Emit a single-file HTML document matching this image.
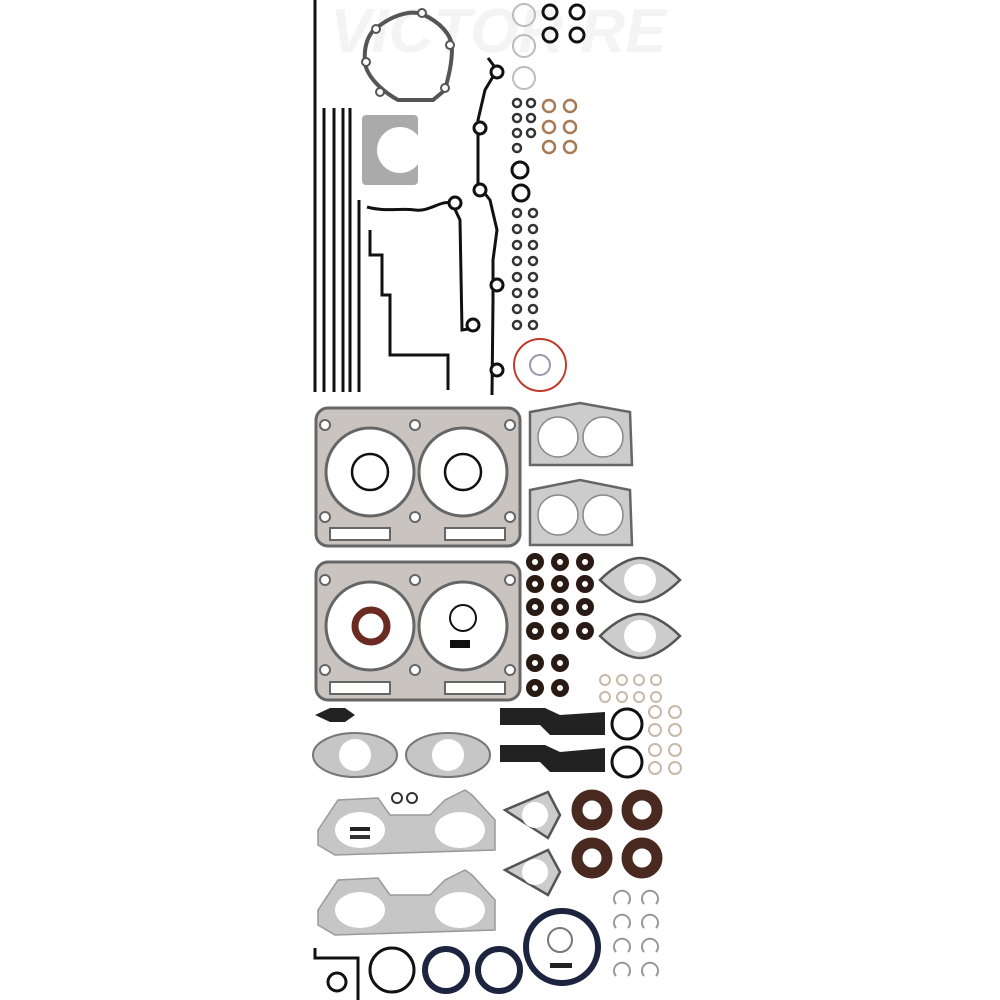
<!DOCTYPE html>
<html><head><meta charset="utf-8"><style>html,body{margin:0;padding:0;background:#fff}svg{display:block}</style></head>
<body>
<svg width="1000" height="1000" viewBox="0 0 1000 1000" xmlns="http://www.w3.org/2000/svg">
<rect width="1000" height="1000" fill="#fff"/>
<text x="330" y="52" font-family="Liberation Sans, sans-serif" font-size="62" font-style="italic" font-weight="bold" fill="#f4f4f4">VICTOR RE</text>
<g stroke="#111" stroke-width="3" fill="none">
<line x1="315" y1="0" x2="315" y2="392"/>
<line x1="324" y1="108" x2="324" y2="392"/>
<line x1="334" y1="108" x2="334" y2="392"/>
<line x1="343" y1="108" x2="343" y2="392"/>
<line x1="350" y1="108" x2="350" y2="392"/>
<line x1="359" y1="200" x2="359" y2="392"/>
<path d="M488 58 L497 70 L485 90 L478 120 L478 185 L490 200 L497 230 L493 260 L493 300 L492 395"/>
<path d="M367 207 C385 212 400 208 415 210 C430 212 440 200 452 203 L460 220 L462 330 L475 328"/>
<path d="M370 230 L370 255 L382 255 L382 295 L390 295 L390 355 L448 355 L448 390"/>
</g>
<g fill="#fff" stroke="#111" stroke-width="3">
<circle cx="497" cy="72" r="6"/><circle cx="480" cy="128" r="6"/><circle cx="480" cy="190" r="6"/><circle cx="497" cy="285" r="6"/><circle cx="473" cy="325" r="6"/><circle cx="497" cy="370" r="6"/><circle cx="455" cy="203" r="6"/>
</g>
<path d="M372 32 C390 15 410 10 422 14 C440 22 452 35 452 48 C452 65 448 78 445 90 L433 100 L398 100 C380 90 366 75 365 62 C364 50 366 40 372 32 Z" fill="none" stroke="#555" stroke-width="4"/>
<g fill="#fff" stroke="#555" stroke-width="2"><circle cx="376" cy="29" r="4"/><circle cx="422" cy="13" r="4"/><circle cx="450" cy="45" r="4"/><circle cx="366" cy="62" r="4"/><circle cx="445" cy="88" r="4"/><circle cx="380" cy="92" r="4"/></g>
<rect x="362" y="115" width="56" height="70" rx="4" fill="#aaa"/>
<circle cx="400" cy="150" r="23" fill="#fff"/>
<g fill="none" stroke="#bbb" stroke-width="2"><circle cx="524" cy="15" r="11"/><circle cx="524" cy="46" r="11"/><circle cx="524" cy="78" r="11"/></g>
<g fill="none" stroke="#111" stroke-width="3"><circle cx="550" cy="12" r="7"/><circle cx="577" cy="12" r="7"/><circle cx="550" cy="35" r="7"/><circle cx="577" cy="35" r="7"/><circle cx="520" cy="170" r="8"/><circle cx="521" cy="193" r="8"/></g>
<g fill="none" stroke="#333" stroke-width="2.5">
<circle cx="517" cy="103" r="4"/><circle cx="531" cy="103" r="4"/><circle cx="517" cy="118" r="4"/><circle cx="531" cy="118" r="4"/><circle cx="517" cy="133" r="4"/><circle cx="531" cy="133" r="4"/><circle cx="517" cy="148" r="4"/>
<circle cx="517" cy="213" r="4"/><circle cx="533" cy="213" r="4"/><circle cx="517" cy="229" r="4"/><circle cx="533" cy="229" r="4"/><circle cx="517" cy="245" r="4"/><circle cx="533" cy="245" r="4"/><circle cx="517" cy="261" r="4"/><circle cx="533" cy="261" r="4"/><circle cx="517" cy="277" r="4"/><circle cx="533" cy="277" r="4"/><circle cx="517" cy="293" r="4"/><circle cx="533" cy="293" r="4"/><circle cx="517" cy="309" r="4"/><circle cx="533" cy="309" r="4"/><circle cx="517" cy="325" r="4"/><circle cx="533" cy="325" r="4"/>
</g>
<g fill="none" stroke="#a77a55" stroke-width="2.5"><circle cx="549" cy="106" r="6"/><circle cx="570" cy="106" r="6"/><circle cx="549" cy="127" r="6"/><circle cx="570" cy="127" r="6"/><circle cx="549" cy="147" r="6"/><circle cx="570" cy="147" r="6"/></g>
<circle cx="540" cy="365" r="26" fill="none" stroke="#c0392b" stroke-width="2"/>
<circle cx="540" cy="365" r="10" fill="none" stroke="#99a" stroke-width="2"/>
<g>
<rect x="316" y="408" width="204" height="138" rx="12" fill="#c9c4c0" stroke="#666" stroke-width="3"/>
<circle cx="370" cy="472" r="44" fill="#fff" stroke="#666" stroke-width="3"/><circle cx="463" cy="472" r="44" fill="#fff" stroke="#666" stroke-width="3"/>
<circle cx="370" cy="472" r="18" fill="none" stroke="#111" stroke-width="2.5"/><circle cx="463" cy="472" r="18" fill="none" stroke="#111" stroke-width="2.5"/>
<rect x="330" y="528" width="60" height="12" fill="#fff" stroke="#666" stroke-width="2"/><rect x="445" y="528" width="60" height="12" fill="#fff" stroke="#666" stroke-width="2"/>
<rect x="316" y="562" width="204" height="138" rx="12" fill="#c9c4c0" stroke="#666" stroke-width="3"/>
<circle cx="370" cy="626" r="44" fill="#fff" stroke="#666" stroke-width="3"/><circle cx="463" cy="626" r="44" fill="#fff" stroke="#666" stroke-width="3"/>
<circle cx="371" cy="626" r="16" fill="none" stroke="#6b2a22" stroke-width="7"/>
<circle cx="463" cy="618" r="13" fill="none" stroke="#111" stroke-width="2"/><rect x="450" y="640" width="20" height="8" fill="#111"/>
<rect x="330" y="682" width="60" height="12" fill="#fff" stroke="#666" stroke-width="2"/><rect x="445" y="682" width="60" height="12" fill="#fff" stroke="#666" stroke-width="2"/>
<g fill="#fff" stroke="#666" stroke-width="2"><circle cx="325" cy="425" r="5"/><circle cx="415" cy="425" r="5"/><circle cx="510" cy="425" r="5"/><circle cx="325" cy="517" r="5"/><circle cx="415" cy="517" r="5"/><circle cx="510" cy="517" r="5"/><circle cx="325" cy="580" r="5"/><circle cx="415" cy="580" r="5"/><circle cx="510" cy="580" r="5"/><circle cx="325" cy="670" r="5"/><circle cx="415" cy="670" r="5"/><circle cx="510" cy="670" r="5"/></g>
</g>
<g fill="#ccc" stroke="#666" stroke-width="2.5">
<path d="M530 412 L580 403 L630 412 L632 465 L530 465 Z"/><path d="M530 490 L580 480 L630 490 L632 545 L530 545 Z"/>
</g>
<g fill="#fff" stroke="#888" stroke-width="1.5"><circle cx="558" cy="437" r="20"/><circle cx="603" cy="437" r="20"/><circle cx="558" cy="515" r="20"/><circle cx="603" cy="515" r="20"/></g>
<g fill="none" stroke="#2a1a14" stroke-width="6">
<circle cx="535" cy="562" r="6"/><circle cx="560" cy="562" r="6"/><circle cx="585" cy="562" r="6"/>
<circle cx="535" cy="584" r="6"/><circle cx="560" cy="584" r="6"/><circle cx="585" cy="584" r="6"/>
<circle cx="535" cy="607" r="6"/><circle cx="560" cy="607" r="6"/><circle cx="585" cy="607" r="6"/>
<circle cx="535" cy="631" r="6"/><circle cx="560" cy="631" r="6"/><circle cx="585" cy="631" r="6"/>
<circle cx="535" cy="663" r="6"/><circle cx="560" cy="663" r="6"/>
<circle cx="535" cy="688" r="6"/><circle cx="560" cy="688" r="6"/>
</g>
<g fill="#ccc" stroke="#555" stroke-width="2.5">
<path d="M600 580 C615 565 630 558 640 558 C650 558 665 565 680 580 C665 595 650 602 640 602 C630 602 615 595 600 580 Z"/>
<path d="M600 636 C615 621 630 614 640 614 C650 614 665 621 680 636 C665 651 650 658 640 658 C630 658 615 651 600 636 Z"/>
</g>
<g fill="#fff"><circle cx="640" cy="580" r="16"/><circle cx="640" cy="636" r="16"/></g>
<g fill="none" stroke="#c8b8a8" stroke-width="2"><circle cx="605" cy="680" r="5"/><circle cx="622" cy="680" r="5"/><circle cx="639" cy="680" r="5"/><circle cx="656" cy="680" r="5"/><circle cx="605" cy="697" r="5"/><circle cx="622" cy="697" r="5"/><circle cx="639" cy="697" r="5"/><circle cx="656" cy="697" r="5"/>
<circle cx="655" cy="712" r="6"/><circle cx="675" cy="712" r="6"/><circle cx="655" cy="730" r="6"/><circle cx="675" cy="730" r="6"/><circle cx="655" cy="750" r="6"/><circle cx="675" cy="750" r="6"/><circle cx="655" cy="768" r="6"/><circle cx="675" cy="768" r="6"/></g>
<path d="M315 715 L330 708 L345 708 L355 715 L345 722 L330 722 Z" fill="#222"/>
<path d="M500 708 L545 708 L560 715 L605 712 L605 735 L550 735 L540 725 L500 725 Z" fill="#222"/>
<path d="M500 745 L545 745 L560 752 L605 748 L605 772 L550 772 L540 762 L500 762 Z" fill="#222"/>
<g fill="none" stroke="#111" stroke-width="3"><circle cx="627" cy="724" r="15"/><circle cx="627" cy="762" r="15"/></g>
<g fill="#c6c6c6" stroke="#777" stroke-width="2"><ellipse cx="355" cy="755" rx="42" ry="22"/><ellipse cx="448" cy="755" rx="42" ry="22"/></g>
<g fill="#fff"><circle cx="355" cy="755" r="16"/><circle cx="448" cy="755" r="16"/></g>
<g fill="#c6c6c6" stroke="#999" stroke-width="1.5">
<path d="M318 830 L338 800 L378 798 L390 815 L430 815 L445 800 L465 790 L472 795 L495 820 L495 850 L335 855 L318 845 Z"/>
<path d="M318 910 L338 880 L378 878 L390 895 L430 895 L445 880 L465 870 L472 875 L495 900 L495 930 L335 935 L318 925 Z"/>
</g>
<g fill="#fff"><ellipse cx="360" cy="830" rx="25" ry="18"/><ellipse cx="460" cy="830" rx="25" ry="18"/><ellipse cx="360" cy="910" rx="25" ry="18"/><ellipse cx="460" cy="910" rx="25" ry="18"/></g>
<rect x="350" y="827" width="20" height="4" fill="#222"/><rect x="350" y="835" width="20" height="4" fill="#333"/>
<g fill="none" stroke="#333" stroke-width="2"><circle cx="397" cy="798" r="5"/><circle cx="412" cy="798" r="5"/></g>
<g fill="#ccc" stroke="#555" stroke-width="2.5"><path d="M505 810 L548 792 L560 815 L548 838 Z"/><path d="M505 870 L548 850 L560 872 L548 895 Z"/></g>
<g fill="#fff"><circle cx="535" cy="815" r="13"/><circle cx="535" cy="872" r="13"/></g>
<g fill="none" stroke="#4a2a20" stroke-width="11"><circle cx="592" cy="810" r="15"/><circle cx="642" cy="810" r="15"/><circle cx="592" cy="858" r="15"/><circle cx="642" cy="858" r="15"/></g>
<g fill="none" stroke="#999" stroke-width="2">
<path d="M616 904 A8 8 0 1 1 628 904"/><path d="M644 904 A8 8 0 1 1 656 904"/>
<path d="M616 928 A8 8 0 1 1 628 928"/><path d="M644 928 A8 8 0 1 1 656 928"/>
<path d="M616 952 A8 8 0 1 1 628 952"/><path d="M644 952 A8 8 0 1 1 656 952"/>
<path d="M616 976 A8 8 0 1 1 628 976"/><path d="M644 976 A8 8 0 1 1 656 976"/>
</g>
<path d="M315 948 L315 958 L358 958 L358 1000" fill="none" stroke="#111" stroke-width="3"/>
<circle cx="337" cy="982" r="9" fill="none" stroke="#111" stroke-width="3"/>
<circle cx="392" cy="970" r="22" fill="none" stroke="#111" stroke-width="3"/>
<circle cx="446" cy="970" r="21" fill="none" stroke="#1d2440" stroke-width="6"/>
<circle cx="499" cy="970" r="21" fill="none" stroke="#1d2440" stroke-width="6"/>
<circle cx="562" cy="947" r="36" fill="none" stroke="#1d2440" stroke-width="6"/>
<circle cx="560" cy="940" r="12" fill="none" stroke="#777" stroke-width="2"/>
<rect x="550" y="963" width="22" height="5" fill="#222"/>
</svg>
</body></html>
